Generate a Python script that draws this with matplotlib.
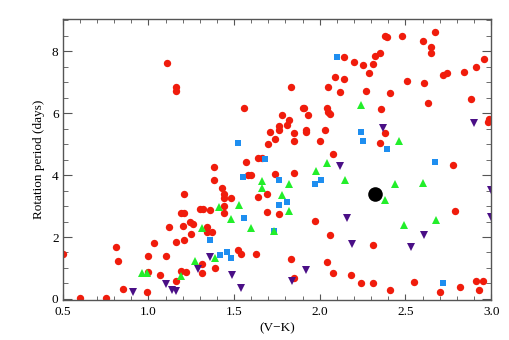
import numpy as np
from matplotlib import pyplot as plt
from matplotlib.ticker import MultipleLocator, FormatStrFormatter

# (V-K) colour vs rotation period
red_x = [0.50, 0.60, 0.75, 0.81, 0.82, 0.85, 0.99, 1.00, 1.00, 1.03,
         1.07, 1.10, 1.12, 1.16, 1.16, 1.19, 1.22, 1.21, 1.20, 1.19,
         1.21, 1.21, 1.24, 1.26, 1.25, 1.30, 1.32, 1.36, 1.34, 1.34,
         1.37, 1.31, 1.31, 1.39, 1.38, 1.38, 1.43, 1.44, 1.44, 1.44,
         1.44, 1.48, 1.52, 1.54, 1.63, 1.57, 1.58, 1.60, 1.64, 1.66,
         1.64, 1.69, 1.69, 1.76, 1.74, 1.85, 1.83, 1.85, 1.97, 2.06,
         2.04, 2.08, 2.18, 2.24, 2.31, 2.31, 2.41, 2.55, 2.70, 2.82,
         2.91, 2.95, 2.93, 2.79, 2.78, 2.08, 1.11, 1.16, 1.16, 1.56,
         1.70, 1.74, 1.71, 1.76, 1.76, 1.81, 1.82, 1.78, 1.85, 1.85,
         1.92, 1.92, 2.00, 2.03, 1.90, 1.91, 1.93, 2.04, 2.05, 2.06,
         1.83, 2.05, 2.12, 2.09, 2.14, 2.14, 2.20, 2.25, 2.31, 2.32,
         2.35, 2.29, 2.27, 2.36, 2.38, 2.35, 2.38, 2.39, 2.48, 2.60,
         2.67, 2.65, 2.65, 2.51, 2.61, 2.41, 2.63, 2.72, 2.74, 2.84,
         2.91, 2.96, 2.88, 2.98, 2.99]
red_y = [1.45, 0.02, 0.03, 1.68, 1.21, 0.31, 0.23, 0.87, 1.38, 1.81,
         0.76, 1.38, 2.33, 0.57, 1.83, 0.91, 0.87, 1.90, 2.37, 2.79,
         2.79, 3.39, 2.49, 2.43, 2.11, 2.92, 2.89, 2.86, 2.31, 2.17,
         2.16, 1.13, 0.84, 1.01, 4.27, 3.83, 3.58, 3.39, 3.25, 3.00,
         2.77, 3.25, 1.58, 1.46, 1.46, 4.41, 4.01, 4.01, 4.55, 4.55,
         3.30, 3.39, 2.81, 2.75, 4.02, 4.06, 1.30, 0.68, 2.53, 2.05,
         1.18, 0.83, 0.77, 0.52, 0.52, 1.75, 0.30, 0.54, 0.22, 0.40,
         0.57, 0.57, 0.28, 2.84, 4.32, 4.67, 7.61, 6.85, 6.73, 6.17,
         5.02, 5.15, 5.40, 5.47, 5.57, 5.62, 5.77, 5.95, 5.37, 5.09,
         5.46, 5.38, 5.09, 5.46, 6.16, 6.16, 5.95, 6.17, 6.03, 5.97,
         6.86, 6.83, 6.70, 7.18, 7.11, 7.82, 7.66, 7.57, 7.58, 7.86,
         7.96, 7.29, 6.71, 6.14, 5.35, 5.03, 8.50, 8.47, 8.50, 8.34,
         8.62, 8.15, 7.94, 7.05, 6.97, 6.66, 6.34, 7.24, 7.29, 7.32,
         7.48, 7.76, 6.45, 5.70, 5.82]

blue_x = [1.36, 1.42, 1.46, 1.48, 1.56, 1.55, 1.52, 1.68, 1.76, 1.81,
          1.76, 1.73, 1.97, 2.01, 2.10, 2.24, 2.25, 2.39, 2.67, 2.72]
blue_y = [1.91, 1.43, 1.50, 1.32, 2.60, 3.93, 5.05, 4.53, 3.85, 3.14,
          3.03, 2.20, 3.72, 3.84, 7.82, 5.39, 5.11, 4.83, 4.42, 0.51]

green_x = [0.96, 0.99, 1.19, 1.27, 1.31, 1.39, 1.41, 1.53, 1.48, 1.60,
           1.66, 1.66, 1.73, 1.78, 1.82, 1.82, 1.98, 2.04, 2.15, 2.24,
           2.46, 2.38, 2.44, 2.60, 2.49, 2.68]
green_y = [0.85, 0.83, 0.73, 1.21, 2.29, 1.32, 2.97, 3.02, 2.58, 2.30,
           3.82, 3.58, 2.20, 3.35, 3.72, 2.84, 4.13, 4.38, 3.84, 6.25,
           5.11, 3.20, 3.72, 3.76, 2.40, 2.56]

purple_x = [0.91, 1.10, 1.14, 1.16, 1.29, 1.36, 1.49, 1.54, 1.84, 1.92,
            2.12, 2.16, 2.19, 2.37, 2.53, 2.61, 2.90, 3.00, 3.00]
purple_y = [0.22, 0.49, 0.30, 0.25, 0.98, 1.34, 0.78, 0.36, 0.57, 0.94,
            4.30, 2.61, 1.78, 5.53, 1.69, 2.05, 5.68, 3.53, 2.66]

sun_x = [2.32]
sun_y = [3.39]

plt.rcParams['font.family'] = ['Liberation Serif', 'DejaVu Serif']

fig = plt.figure(figsize=(5.1, 3.4), dpi=100)
ax = fig.add_axes([0.123, 0.119, 0.840, 0.824])

ax.plot(red_x, red_y, 'o', color='#f01c0c', ms=5.3, mew=0)
ax.plot(blue_x, blue_y, 's', color='#1e8ef0', ms=4.6, mew=0)
ax.plot(green_x, green_y, '^', color='#22ee2a', ms=5.3, mew=0)
ax.plot(purple_x, purple_y, 'v', color='#4a0f86', ms=5.3, mew=0)
ax.plot(sun_x, sun_y, 'o', color='black', ms=10.5, mew=0)

ax.set_xlim(0.5, 3.0)
ax.set_ylim(-0.02, 9.03)

ax.xaxis.set_major_locator(MultipleLocator(0.5))
ax.xaxis.set_minor_locator(MultipleLocator(0.1))
ax.yaxis.set_major_locator(MultipleLocator(2))
ax.yaxis.set_minor_locator(MultipleLocator(0.5))
ax.xaxis.set_major_formatter(FormatStrFormatter('%.1f'))
ax.yaxis.set_major_formatter(FormatStrFormatter('%d'))

for s in ax.spines.values():
    s.set_color('#555555')
    s.set_linewidth(1.0)
ax.tick_params(which='both', direction='in', top=True, right=True,
               color='#555555', labelsize=9.5, labelcolor='black')
ax.tick_params(axis='y', which='major', length=6.5, pad=3)
ax.tick_params(axis='y', which='minor', length=3.6)
ax.tick_params(axis='x', which='major', length=4.3, pad=5)
ax.tick_params(axis='x', which='minor', length=2.8)

ax.set_xlabel('(V\u2212K)', fontsize=9.5, labelpad=3)
ax.set_ylabel('Rotation period (days)', fontsize=9.5, labelpad=5)

fig.savefig('out.png', dpi=100)
